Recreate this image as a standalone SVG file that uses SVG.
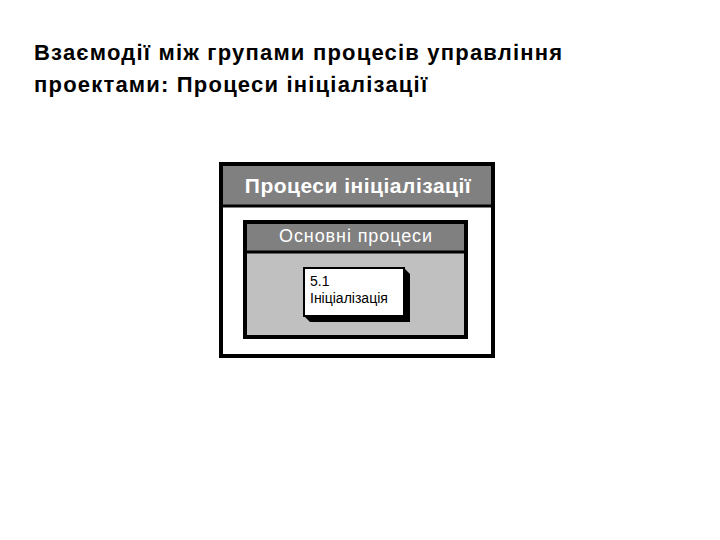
<svg xmlns="http://www.w3.org/2000/svg" width="720" height="540" viewBox="0 0 720 540">
<style>
.title{font-family:"Liberation Sans",Arial,sans-serif;font-weight:bold;font-size:22px;letter-spacing:1.2px;fill:#000}
.hdr{font-family:"Liberation Sans",Arial,sans-serif;font-weight:bold;font-size:21px;letter-spacing:0.5px;fill:#fff;text-anchor:middle}
.sub{font-family:"Liberation Sans",Arial,sans-serif;font-size:18px;letter-spacing:0.9px;fill:#fff;text-anchor:middle}
.lbl{font-family:"Liberation Sans",Arial,sans-serif;font-size:14px;fill:#000}
</style>
<rect width="720" height="540" fill="#fff"/>
<g id="title">
<text class="title" x="34" y="60">Взаємодії між групами процесів управління</text>
<text class="title" x="34" y="92">проектами: Процеси ініціалізації</text>
</g>
<g id="outer">
<rect x="221" y="164" width="272" height="192" fill="#fff" stroke="#000" stroke-width="4"/>
<rect x="223" y="166" width="268" height="39" fill="#808080"/>
<line x1="221" y1="206" x2="493" y2="206" stroke="#000" stroke-width="3"/>
<text class="hdr" x="358" y="193">Процеси ініціалізації</text>
</g>
<g id="inner">
<rect x="245" y="222" width="221" height="115" fill="#c0c0c0" stroke="#000" stroke-width="4"/>
<rect x="247" y="224" width="217" height="28" fill="#808080"/>
<line x1="245" y1="252" x2="466" y2="252" stroke="#000" stroke-width="3"/>
<text class="sub" x="356" y="242">Основні процеси</text>
</g>
<g id="process">
<polygon points="404,268 410,274 410,322 310,322 304,316" fill="#000"/>
<rect x="304" y="268" width="100" height="48" fill="#fff" stroke="#000" stroke-width="2"/>
<text class="lbl" x="310" y="286">5.1</text>
<text class="lbl" x="310" y="303">Ініціалізація</text>
</g>
</svg>
